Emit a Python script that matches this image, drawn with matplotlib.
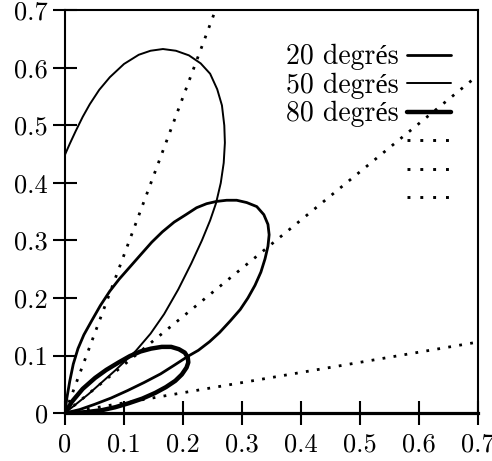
import numpy as np
import matplotlib
matplotlib.use("Agg")
import matplotlib.pyplot as plt
from matplotlib.lines import Line2D

plt.rcParams['font.family'] = ['cmr10', 'Liberation Serif']
plt.rcParams['axes.formatter.use_mathtext'] = False

# ---- data ----
labels = ['20 degrés', '50 degrés', '80 degrés']

loop20_x = [0.0, 0.003, 0.008, 0.014, 0.022, 0.032, 0.045, 0.060, 0.076, 0.092, 0.110,
            0.128, 0.147, 0.165, 0.185, 0.205, 0.223, 0.240, 0.257, 0.274, 0.291,
            0.308, 0.325, 0.337, 0.344, 0.346, 0.344, 0.339, 0.332, 0.322, 0.310,
            0.297, 0.280, 0.262, 0.245, 0.226, 0.209, 0.185, 0.162, 0.134, 0.106,
            0.078, 0.050, 0.025, 0.0]
loop20_y = [0.0, 0.025, 0.055, 0.085, 0.112, 0.136, 0.160, 0.187, 0.212, 0.233, 0.254,
            0.275, 0.297, 0.315, 0.332, 0.345, 0.357, 0.364, 0.368, 0.370, 0.370,
            0.366, 0.359, 0.345, 0.328, 0.310, 0.290, 0.268, 0.245, 0.222, 0.200,
            0.180, 0.160, 0.140, 0.124, 0.109, 0.099, 0.083, 0.068, 0.053, 0.039,
            0.026, 0.015, 0.006, 0.0]

loop50_x = [0.0, 0.040, 0.085, 0.120, 0.145, 0.168, 0.192, 0.214, 0.232, 0.246, 0.256,
            0.264, 0.269, 0.271, 0.270, 0.266, 0.258, 0.246, 0.230, 0.210, 0.188,
            0.166, 0.145, 0.125, 0.100, 0.076, 0.058, 0.042, 0.030, 0.018, 0.008,
            0.002, -0.008]
loop50_y = [0.0, 0.033, 0.074, 0.108, 0.138, 0.172, 0.215, 0.260, 0.300, 0.335, 0.365,
            0.400, 0.435, 0.470, 0.500, 0.535, 0.563, 0.590, 0.608, 0.622, 0.630,
            0.633, 0.630, 0.623, 0.607, 0.584, 0.562, 0.537, 0.515, 0.490, 0.468,
            0.454, 0.430]

loop80_x = [0.0, 0.012, 0.030, 0.051, 0.070, 0.091, 0.110, 0.128, 0.146, 0.164, 0.180,
            0.193, 0.203, 0.208, 0.209, 0.206, 0.198, 0.187, 0.171, 0.153, 0.131,
            0.108, 0.085, 0.063, 0.040, 0.018, 0.0]
loop80_y = [0.0, 0.020, 0.042, 0.061, 0.075, 0.088, 0.099, 0.107, 0.112, 0.115, 0.115,
            0.111, 0.105, 0.097, 0.088, 0.079, 0.067, 0.056, 0.045, 0.035, 0.025,
            0.017, 0.010, 0.005, 0.002, 0.000, 0.0]

dotted_angles_deg = [10, 40, 70]

ticks = [0, 0.1, 0.2, 0.3, 0.4, 0.5, 0.6, 0.7]
tick_labels = ['0', '0.1', '0.2', '0.3', '0.4', '0.5', '0.6', '0.7']

# ---- figure ----
fig = plt.figure(figsize=(4.92, 4.61), dpi=100)
ax = fig.add_axes([65/492, 1-413/461, 413/492, 402.5/461])

widths = [2.0, 1.4, 3.2]
curves = [(loop20_x, loop20_y), (loop50_x, loop50_y), (loop80_x, loop80_y)]
handles = []
for (cx, cy), lw, lab in zip(curves, widths, labels):
    h, = ax.plot(cx, cy, color='black', lw=lw, solid_joinstyle='round',
                 solid_capstyle='round', label=lab)
    handles.append(h)

for a in dotted_angles_deg:
    t = np.tan(np.radians(a))
    ax.plot([0, 2.0], [0, 2.0*t], color='black', lw=2.0,
            linestyle=(0, (1.0, 3.0)), dash_capstyle='butt')

dot_handles = [Line2D([], [], color='black', lw=2.1, linestyle=(0, (1.0, 3.4)),
                      dash_capstyle='butt') for _ in dotted_angles_deg]

ax.set_xlim(0, 0.7)
ax.set_ylim(0, 0.7)
ax.set_xticks(ticks)
ax.set_xticklabels(tick_labels)
ax.set_yticks(ticks)
ax.set_yticklabels(tick_labels)
ax.tick_params(direction='inout', length=17, width=1.5, labelsize=19, color='black')
ax.tick_params(axis='x', pad=6)
ax.tick_params(axis='y', pad=4)
for s in ['left', 'top', 'right']:
    ax.spines[s].set_linewidth(1.5)
ax.spines['bottom'].set_linewidth(2.3)

leg = ax.legend(handles + dot_handles, labels + ['', '', ''],
                loc='upper right', bbox_to_anchor=(0.935, 0.917),
                markerfirst=False, frameon=False, fontsize=20,
                handlelength=1.58, handletextpad=0.3, labelspacing=0.08,
                borderpad=0, borderaxespad=0)

fig.savefig('out.png', dpi=100)
